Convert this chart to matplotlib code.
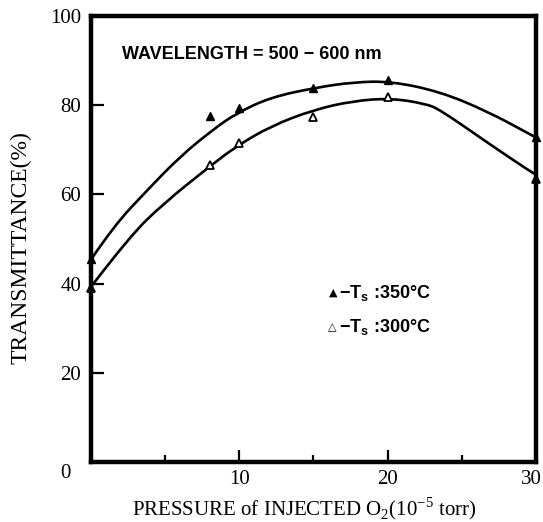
import matplotlib
matplotlib.use("Agg")
import matplotlib.pyplot as plt
import matplotlib.transforms as mtransforms
from matplotlib.path import Path
from matplotlib.patches import PathPatch

# measured points (pressure in 1e-5 torr, transmittance in %)
p_pts = [0, 8, 10, 15, 20, 30]
t_350 = [45.5, 77.5, 79.5, 84.0, 85.7, 72.8]
t_300 = [39.0, 66.7, 71.6, 77.3, 81.9, 63.5]

# hand drawn guide curves
cx_350 = [0, 1.5, 3.8, 6.0, 8.2, 9.8, 12.1, 15.2, 17.7, 20.2, 23.5, 26.7, 29.6, 30]
cy_350 = [45.4, 52.8, 61.0, 68.5, 74.5, 78.2, 81.8, 84.0, 85.2, 85.4, 83.1, 78.7, 73.5, 72.8]
cx_300 = [0, 2.6, 4.9, 8.0, 9.8, 12.1, 15.0, 17.7, 20.2, 22.5, 23.5, 26.7, 29.6, 30]
cy_300 = [39.3, 50.6, 58.0, 66.3, 70.8, 75.3, 79.0, 81.0, 81.6, 80.4, 79.1, 71.7, 65.2, 64.5]

yticks = [20, 40, 60, 80, 100]
xticks = [10, 20, 30]
xminor = [5, 15, 25]

serif = ["Liberation Serif", "DejaVu Serif"]
sans = ["Liberation Sans", "DejaVu Sans"]


def smooth_path(xs, ys):
    # quadratic bezier through the read points (points used as control points)
    pts = list(zip(xs, ys))
    verts = [pts[0]]
    codes = [Path.MOVETO]
    for i in range(1, len(pts) - 1):
        mid = ((pts[i][0] + pts[i + 1][0]) / 2, (pts[i][1] + pts[i + 1][1]) / 2)
        verts += [pts[i], mid]
        codes += [Path.CURVE3, Path.CURVE3]
    verts.append(pts[-1])
    codes.append(Path.LINETO)
    return Path(verts, codes)


fig = plt.figure(figsize=(5.43, 5.22), dpi=100)
ax = fig.add_axes([0.1676, 0.115, 0.8194, 0.854])

for xs, ys in [(cx_350, cy_350), (cx_300, cy_300)]:
    ax.add_patch(PathPatch(smooth_path(xs, ys), fill=False, edgecolor="black", lw=1.9))
ax.plot(p_pts, t_350, "^", color="black", ms=5.5, clip_on=False)
ax.plot(p_pts, t_300, "^", mfc="white", mec="black", mew=1.3, ms=5.5, clip_on=False)

ax.set_xlim(0, 30)
ax.set_ylim(0, 100)
for s in ax.spines.values():
    s.set_linewidth(3.2)

ax.set_yticks(yticks)
ax.set_yticklabels([str(v) for v in yticks], fontfamily=serif, fontsize=15)
ax.set_xticks(xticks)
ax.set_xticklabels([str(v) for v in xticks], fontfamily=serif, fontsize=15)
ax.set_xticks(xminor, minor=True)
ax.tick_params(axis="both", which="major", direction="in", length=9, width=1.6, pad=6)
ax.tick_params(axis="x", which="minor", direction="in", length=5, width=1.6)
ax.tick_params(axis="y", which="major", pad=7)
last = ax.get_xticklabels()[-1]
last.set_ha("right")
last.set_transform(last.get_transform() +
                   mtransforms.ScaledTranslation(0.06, 0, fig.dpi_scale_trans))
ax.text(-0.045, -0.025, "0", transform=ax.transAxes, ha="right", va="center",
        fontfamily=serif, fontsize=15)

ax.set_ylabel("TRANSMITTANCE(%)", fontfamily=serif, fontsize=17, va="center")
ax.yaxis.set_label_coords(-0.158, 0.482)
ax.set_xlabel("PRESSURE of INJECTED O$_\\mathregular{2}$(10$^\\mathregular{-5}$ torr)",
              fontfamily=serif, fontsize=15)
ax.xaxis.set_label_coords(0.48, -0.075)

ax.text(2.1, 91.5, "WAVELENGTH = 500 \u2212 600 nm", fontfamily=sans, fontweight="bold",
        fontsize=13, va="center", ha="left")
ax.text(16.05, 37.9, "\u25b2", fontfamily="DejaVu Sans", fontsize=8, va="center", ha="left")
ax.text(16.75, 37.9, "\u2212T$_\\mathregular{s}$ :350\u00b0C", fontfamily=sans,
        fontweight="bold", fontsize=13, va="center", ha="left")
ax.text(16.0, 30.3, "\u25b3", fontfamily="DejaVu Sans", fontsize=8, va="center", ha="left")
ax.text(16.75, 30.3, "\u2212T$_\\mathregular{s}$ :300\u00b0C", fontfamily=sans,
        fontweight="bold", fontsize=13, va="center", ha="left")

fig.savefig("out.png", dpi=100)
